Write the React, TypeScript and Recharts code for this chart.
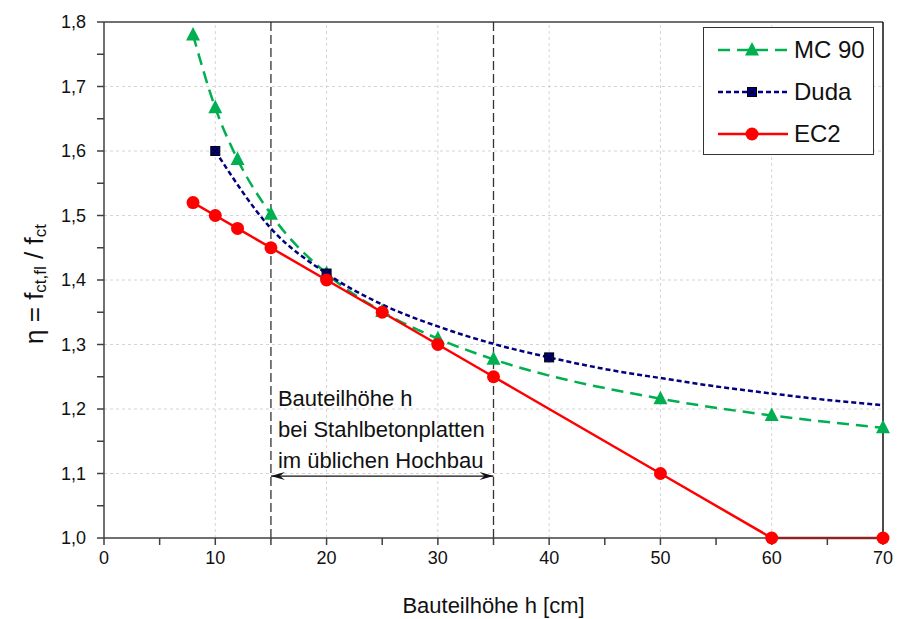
import React from 'react';
import { LineChart, Line, XAxis, YAxis, ReferenceLine } from 'recharts';

// values
const hValues = [8, 10, 12, 15, 20, 25, 30, 35, 50, 60, 70];
const mc90Eta = [1.78, 1.667, 1.587, 1.502, 1.41, 1.351, 1.309, 1.277, 1.216, 1.19, 1.171];
const ec2Eta = [1.52, 1.5, 1.48, 1.45, 1.4, 1.35, 1.3, 1.25, 1.1, 1.0, 1.0];
const dudaH = [10, 15, 20, 25, 30, 35, 40, 45, 50, 55, 60, 65, 70];
const dudaEta = [1.6, 1.48, 1.41, 1.362, 1.328, 1.301, 1.28, 1.262, 1.248, 1.235, 1.224, 1.214, 1.206];
const dudaMarked = [10, 20, 40];

const xTicks = [0, 5, 10, 15, 20, 25, 30, 35, 40, 45, 50, 55, 60, 65, 70];
const xGrid = [10, 20, 30, 40, 50, 60];
const yTicks = [1.0, 1.05, 1.1, 1.15, 1.2, 1.25, 1.3, 1.35, 1.4, 1.45, 1.5, 1.55, 1.6, 1.65, 1.7, 1.75, 1.8];
const yGrid = [1.1, 1.2, 1.3, 1.4, 1.5, 1.6, 1.7];
const rangeMarks = [15, 35];
const rangeArrowY = 1.096;
const rangeText = ['Bauteilhöhe h', 'bei Stahlbetonplatten', 'im üblichen Hochbau'];

const mc90Data = hValues.map((h, i) => ({ h, eta: mc90Eta[i] }));
const ec2Data = hValues.map((h, i) => ({ h, eta: ec2Eta[i] }));
const dudaData = dudaH.map((h, i) => ({ h, eta: dudaEta[i] }));

const GREEN = '#00b050';
const NAVY = '#000080';
const RED = '#ff0000';
const AXIS = '#404040';
const FONT = 'Arial, "Liberation Sans", sans-serif';

const Triangle = ({ cx, cy, fill }: any) => (
  <path d={`M${cx},${cy - 8} L${cx + 7},${cy + 5.5} L${cx - 7},${cy + 5.5} Z`} fill={fill} />
);

const Square = ({ cx, cy }: any) => (
  <g>
    <rect x={cx - 4.5} y={cy - 4.5} width={9} height={9} fill={NAVY} stroke="#000" strokeWidth={1} />
    <path d={`M${cx - 3},${cy - 3} L${cx + 3},${cy + 3} M${cx + 3},${cy - 3} L${cx - 3},${cy + 3}`} stroke="#000" strokeWidth={1} />
  </g>
);

const legendItems = [
  { name: 'MC 90', color: GREEN, dash: '12 7', marker: 'tri' },
  { name: 'Duda', color: NAVY, dash: '5 3', marker: 'sq' },
  { name: 'EC2', color: RED, dash: undefined, marker: 'dot' },
];

const LegendBox = () => (
  <div
    style={{
      position: 'absolute', left: 703, top: 27, width: 169, height: 126,
      border: '1.5px solid #333', background: '#fff', fontFamily: FONT,
    }}
  >
    {legendItems.map((it, i) => (
      <div key={it.name} style={{ position: 'absolute', left: 12, top: 4 + i * 42, height: 36, display: 'flex', alignItems: 'center' }}>
        <svg width={74} height={20}>
          <line x1={2} y1={10} x2={72} y2={10} stroke={it.color} strokeWidth={2.5} strokeDasharray={it.dash} />
          {it.marker === 'tri' && <Triangle cx={36} cy={10} fill={it.color} />}
          {it.marker === 'sq' && <Square cx={36} cy={10} />}
          {it.marker === 'dot' && <circle cx={36} cy={10} r={6.5} fill={it.color} />}
        </svg>
        <span style={{ fontSize: 24, marginLeft: 4, color: '#111' }}>{it.name}</span>
      </div>
    ))}
  </div>
);

const fmtX = (v: number) => (v % 10 === 0 ? String(v) : '');
const fmtY = (v: number) => {
  const r = Math.round(v * 100);
  return r % 10 === 0 ? (r / 100).toFixed(1).replace('.', ',') : '';
};

const YLabel = ({ viewBox }: any) => {
  const cx = viewBox.x - 8;
  const cy = viewBox.y + viewBox.height / 2 + 4;
  return (
    <text x={cx} y={cy} transform={`rotate(-90 ${cx} ${cy})`} textAnchor="middle" fontFamily={FONT} fontSize={26} fill="#111" dominantBaseline="middle">
      <tspan>η = f</tspan>
      <tspan fontSize={17} dy={6}>ct,fl</tspan>
      <tspan dy={-6}> / f</tspan>
      <tspan fontSize={17} dy={6}>ct</tspan>
    </text>
  );
};

const XLabel = ({ viewBox }: any) => (
  <text x={viewBox.x + viewBox.width / 2} y={viewBox.y + 75} textAnchor="middle" fontFamily={FONT} fontSize={22} fill="#111">
    Bauteilhöhe h [cm]
  </text>
);

const RangeArrow = ({ x1, y1, x2, y2 }: any) => (
  <g>
    <line x1={x1} y1={y1} x2={x2} y2={y2} stroke="#111" strokeWidth={1.2} />
    <path d={`M${x1},${y1} L${x1 + 14},${y1 - 4} L${x1 + 9},${y1} L${x1 + 14},${y1 + 4} Z`} fill="#111" />
    <path d={`M${x2},${y2} L${x2 - 14},${y2 - 4} L${x2 - 9},${y2} L${x2 - 14},${y2 + 4} Z`} fill="#111" />
    {rangeText.map((t, i) => (
      <text key={t} x={x1 + 7} y={y1 - 70 + i * 31} fontFamily={FONT} fontSize={22} fill="#111">{t}</text>
    ))}
  </g>
);

export default function App() {
  return (
    <div style={{ position: 'absolute', left: 0, top: 0, width: 899, height: 619, background: '#fff' }}>
      <LineChart width={899} height={619} margin={{ top: 22, right: 16, bottom: 51, left: 44 }}>
        {xGrid.map((v) => (
          <ReferenceLine key={`gx${v}`} x={v} stroke="#d4d4d4" strokeDasharray="3 3" />
        ))}
        {yGrid.map((v) => (
          <ReferenceLine key={`gy${v}`} y={v} stroke="#d4d4d4" strokeDasharray="3 3" />
        ))}
        <ReferenceLine y={1.8} stroke={AXIS} strokeWidth={1.5} />
        <ReferenceLine x={70} stroke="#111" strokeWidth={1.5} />
        <XAxis
          type="number" dataKey="h" domain={[0, 70]} ticks={xTicks} tickFormatter={fmtX}
          stroke={AXIS} strokeWidth={1.5} tickSize={7} tickMargin={6} height={30}
          tick={{ fill: '#111', fontSize: 18, fontFamily: FONT }} interval={0}
          label={{ content: XLabel }} allowDuplicatedCategory={false}
        />
        <YAxis
          type="number" domain={[1.0, 1.8]} ticks={yTicks} tickFormatter={fmtY}
          stroke={AXIS} strokeWidth={1.5} tickSize={7} tickMargin={11} width={60}
          tick={{ fill: '#111', fontSize: 18, fontFamily: FONT }} interval={0}
          label={{ content: YLabel }}
        />
        {rangeMarks.map((v) => (
          <ReferenceLine key={`r${v}`} x={v} stroke="#333" strokeWidth={1.3} strokeDasharray="9 4" />
        ))}
        <ReferenceLine
          segment={[{ x: rangeMarks[0], y: rangeArrowY }, { x: rangeMarks[1], y: rangeArrowY }]}
          shape={RangeArrow}
        />
        <Line
          data={mc90Data} dataKey="eta" type="monotone" stroke={GREEN} strokeWidth={2.5}
          strokeDasharray="12 7" isAnimationActive={false}
          dot={(p: any) => <Triangle key={`m${p.index}`} cx={p.cx} cy={p.cy} fill={GREEN} />}
          activeDot={false}
        />
        <Line
          data={dudaData} dataKey="eta" type="monotone" stroke={NAVY} strokeWidth={2.5}
          strokeDasharray="5 3" isAnimationActive={false}
          dot={(p: any) =>
            dudaMarked.includes(p.payload.h) ? <Square key={`d${p.index}`} cx={p.cx} cy={p.cy} /> : <g key={`d${p.index}`} />
          }
          activeDot={false}
        />
        <Line
          data={ec2Data} dataKey="eta" type="linear" stroke={RED} strokeWidth={2.5}
          isAnimationActive={false}
          dot={(p: any) => <circle key={`e${p.index}`} cx={p.cx} cy={p.cy} r={6.5} fill={RED} />}
          activeDot={false}
        />
      </LineChart>
      <LegendBox />
    </div>
  );
}
